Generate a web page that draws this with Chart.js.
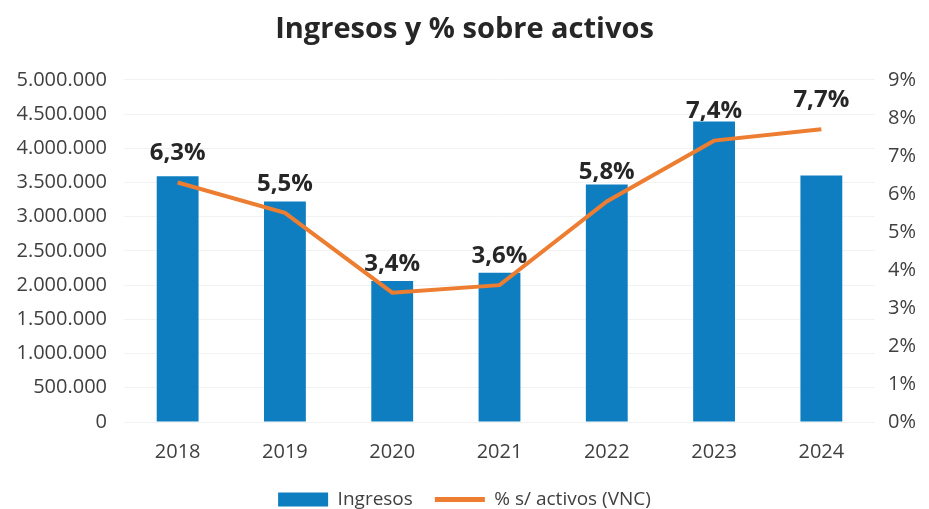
<!DOCTYPE html>
<html>
<head>
<meta charset="utf-8">
<script src="https://cdn.jsdelivr.net/npm/chart.js@4"></script>
<style>
  html, body { margin: 0; padding: 0; background: #fff; }
  #wrap { width: 929px; height: 509px; }
</style>
</head>
<body>
<div id="wrap"><canvas id="chart" width="929" height="509"></canvas></div>
<script>
const years = ['2018', '2019', '2020', '2021', '2022', '2023', '2024'];
const ingresos = [3590000, 3220000, 2060000, 2180000, 3470000, 4390000, 3600000];
const pctActivos = [6.3, 5.5, 3.4, 3.6, 5.8, 7.4, 7.7];

const FONT = "'Open Sans', 'DejaVu Sans', sans-serif";

const fmtMiles = v => String(Math.round(v)).replace(/\B(?=(\d{3})+(?!\d))/g, '.');
const fmtPct = v => v.toFixed(1).replace('.', ',') + '%';

// etiquetas de la linea encima de cada punto
const lineLabels = {
  id: 'lineLabels',
  afterDatasetsDraw(chart) {
    const meta = chart.getDatasetMeta(1);
    const ctx = chart.ctx;
    ctx.save();
    ctx.font = 'bold 24px ' + FONT;
    ctx.fillStyle = '#262626';
    ctx.textAlign = 'center';
    ctx.textBaseline = 'middle';
    meta.data.forEach((pt, i) => {
      ctx.fillText(fmtPct(pctActivos[i]), pt.x, pt.y - 29);
    });
    ctx.restore();
  }
};

new Chart(document.getElementById('chart'), {
  data: {
    labels: years,
    datasets: [
      {
        type: 'bar',
        label: 'Ingresos',
        data: ingresos,
        backgroundColor: '#0E7EC0',
        yAxisID: 'y',
        categoryPercentage: 1,
        barPercentage: 0.39,
        order: 2
      },
      {
        type: 'line',
        label: '% s/ activos (VNC)',
        data: pctActivos,
        borderColor: '#ED7D31',
        backgroundColor: '#ED7D31',
        borderWidth: 4,
        pointRadius: 0,
        tension: 0,
        yAxisID: 'y1',
        order: 1
      }
    ]
  },
  options: {
    responsive: false,
    animation: false,
    layout: { padding: { top: 0, bottom: -10, left: 0, right: 0 } },
    plugins: {
      title: {
        display: true,
        text: 'Ingresos y % sobre activos',
        color: '#262626',
        font: { family: FONT, size: 29, weight: 'bold' },
        padding: { top: 12, bottom: 33 }
      },
      legend: {
        position: 'bottom',
        labels: {
          color: '#404040',
          font: { family: FONT, size: 19 },
          usePointStyle: true,
          pointStyleWidth: 50,
          boxHeight: 14,
          padding: 22,
          generateLabels(chart) {
            return chart.data.datasets.map((ds, i) => ({
              text: ds.label,
              fillStyle: ds.backgroundColor,
              strokeStyle: ds.type === 'line' ? ds.borderColor : ds.backgroundColor,
              lineWidth: ds.type === 'line' ? 5 : 0,
              pointStyle: ds.type === 'line' ? 'line' : 'rect',
              fontColor: '#404040',
              datasetIndex: i
            }));
          }
        }
      },
      tooltip: { enabled: false }
    },
    scales: {
      x: {
        grid: { display: false },
        border: { display: false },
        ticks: { color: '#404040', font: { family: FONT, size: 20 }, padding: 10 },
        afterFit(scale) { scale.height = 46; }
      },
      y: {
        position: 'left',
        min: 0,
        max: 5000000,
        ticks: {
          stepSize: 500000,
          color: '#404040',
          font: { family: FONT, size: 20 },
          padding: 17,
          callback: v => fmtMiles(v)
        },
        grid: { color: '#f2f2f2', drawTicks: false },
        border: { display: false },
        afterFit(scale) { scale.width = 124; }
      },
      y1: {
        position: 'right',
        min: 0,
        max: 9,
        ticks: {
          stepSize: 1,
          color: '#404040',
          font: { family: FONT, size: 20 },
          padding: 5,
          callback: v => v + '%'
        },
        grid: { display: false },
        border: { display: false },
        afterFit(scale) { scale.width = 54; }
      }
    }
  },
  plugins: [lineLabels]
});
</script>
</body>
</html>
